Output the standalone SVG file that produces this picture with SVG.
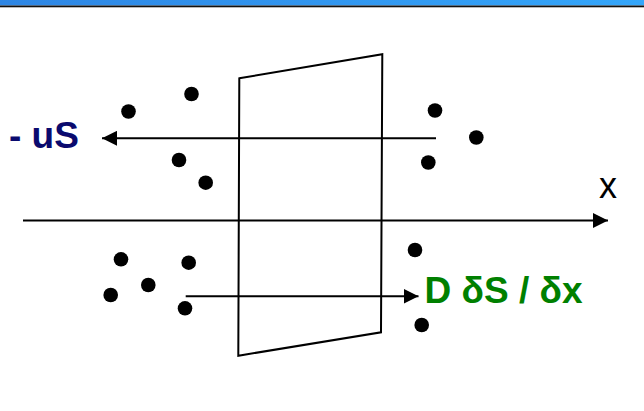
<svg xmlns="http://www.w3.org/2000/svg" width="644" height="411" viewBox="0 0 644 411">
  <defs>
    <linearGradient id="bar" x1="0" y1="0" x2="1" y2="0">
      <stop offset="0" stop-color="#2E86E4"/>
      <stop offset="1" stop-color="#34A6FA"/>
    </linearGradient>
    <marker id="ah" markerWidth="15" markerHeight="15" refX="15" refY="7.5" orient="auto" markerUnits="userSpaceOnUse">
      <path d="M0,0 L15,7.5 L0,15 Z" fill="#000"/>
    </marker>
  </defs>
  <style>
    .dot { fill: #000; }
    .ln { stroke: #000; stroke-width: 2; fill: none; }
    .lbl { font-family: "Liberation Sans", Arial, sans-serif; font-size: 36px; }
    .big { font-size: 37px; font-weight: bold; }
  </style>
  <rect width="644" height="411" fill="#fff"/>
  <g id="header">
    <rect x="0" y="0" width="644" height="5.5" fill="url(#bar)"/>
    <rect x="0" y="5.5" width="644" height="1.8" fill="#111"/>
  </g>
  <g id="plane">
    <polygon points="239.3,78.3 382.3,54.3 381,332.3 238.3,355.7" fill="none" stroke="#000" stroke-width="2"/>
  </g>
  <g id="particles">
    <circle class="dot" cx="128.5" cy="111.5" r="7.3"/>
    <circle class="dot" cx="191.5" cy="94" r="7.3"/>
    <circle class="dot" cx="179" cy="160" r="7.3"/>
    <circle class="dot" cx="205.7" cy="182.7" r="7.3"/>
    <circle class="dot" cx="435" cy="110.5" r="7.3"/>
    <circle class="dot" cx="476.3" cy="137.5" r="7.3"/>
    <circle class="dot" cx="428.3" cy="162.5" r="7.3"/>
    <circle class="dot" cx="121" cy="259.3" r="7.3"/>
    <circle class="dot" cx="188.7" cy="262.7" r="7.3"/>
    <circle class="dot" cx="148.3" cy="285" r="7.3"/>
    <circle class="dot" cx="110.7" cy="295" r="7.3"/>
    <circle class="dot" cx="185" cy="308.3" r="7.3"/>
    <circle class="dot" cx="415" cy="250" r="7.3"/>
    <circle class="dot" cx="421.7" cy="325" r="7.3"/>
  </g>
  <g id="connectors">
    <line class="ln" x1="436" y1="138.3" x2="102" y2="138.3" marker-end="url(#ah)"/>
    <line class="ln" x1="23" y1="220.5" x2="608" y2="220.5" marker-end="url(#ah)"/>
    <line class="ln" x1="185.7" y1="296.3" x2="418.5" y2="296.3" marker-end="url(#ah)"/>
  </g>
  <g id="label-us">
    <text class="lbl big" x="9" y="148.3" fill="#0A0A6E">- uS</text>
  </g>
  <g id="label-x">
    <text class="lbl" x="599" y="197.7" fill="#000">x</text>
  </g>
  <g id="label-flux">
    <text class="lbl big" x="424.5" y="302.7" fill="#008000">D δS / δx</text>
  </g>
</svg>
